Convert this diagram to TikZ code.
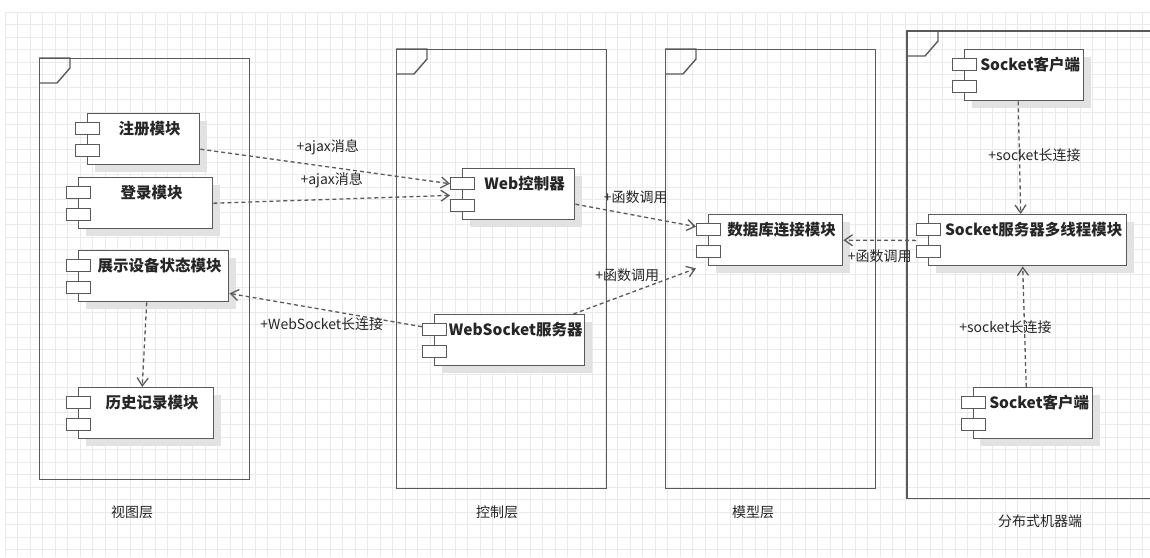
\documentclass[tikz,border=0pt]{standalone}
\usepackage{fontspec}
\setmainfont{Noto Sans CJK SC}
\usetikzlibrary{arrows.meta,shadows}

\definecolor{umlline}{HTML}{5A5A5A}
\definecolor{gridc}{HTML}{EAEAEA}
\definecolor{shade}{HTML}{E2E2E2}
\definecolor{ink}{HTML}{262626}

\begin{document}
\begin{tikzpicture}[
  x=1pt, y=-1pt,
  text=ink,
  layer/.style={draw=umlline, line width=1.4pt, anchor=north west, inner sep=0pt},
  comp/.style={draw=umlline, line width=1.4pt, fill=white, anchor=north west,
    minimum height=51pt, inner sep=0pt, text height=12pt, text depth=22pt,
    font=\fontsize{15.5}{18}\selectfont\bfseries,
    execute at begin node=\hspace*{12pt},
    drop shadow={shadow xshift=7pt, shadow yshift=-7pt, fill=shade, opacity=1}},
  port/.style={draw=umlline, line width=1.4pt, fill=white, anchor=north west,
    minimum width=24pt, minimum height=12pt, inner sep=0pt},
  lbl/.style={font=\fontsize{14}{16}\selectfont, inner sep=1pt},
  dep/.style={draw=umlline, line width=1.3pt, dash pattern=on 4pt off 3pt,
    -{Straight Barb[length=8pt, width=11pt]}}
]
\useasboundingbox (0,0) rectangle (1150,557);
\clip (0,0) rectangle (1150,557);

% background grid
\draw[gridc, line width=0.8pt, shift={(5,12)}] (0,0) grid[step=12.5pt] (1145,545);

% layers
\node[layer, minimum width=210pt, minimum height=421pt] (view)  at (39,58)  {};
\node[layer, minimum width=210pt, minimum height=439pt] (ctrl)  at (396,49) {};
\node[layer, minimum width=210pt, minimum height=439pt] (model) at (665,49) {};
\node[layer, draw=none, minimum width=320pt, minimum height=466pt] (dist) at (907,31) {};
% the last layer runs past the right border
\draw[umlline, line width=1.4pt] (dist.north east) -- (dist.north west) -- (dist.south west) -- (dist.south east);
\foreach \f in {view,ctrl,model,dist}
  \draw[umlline, line width=1.4pt] (\f.north west) -- ++(31,0) -- ++(0,10) -- ++(-13,15) -- ++(-18,0);

\node[lbl] (viewname)  at (132,512)  {视图层};
\node[lbl] (ctrlname)  at (497,512)  {控制层};
\node[lbl] (modelname) at (753,512)  {模型层};
\node[lbl] (distname)  at (1040,521) {分布式机器端};

% view layer
\node[comp, minimum width=112pt] (reg)   at (87,113) {注册模块};
\node[comp, minimum width=134pt] (login) at (78,177) {登录模块};
\node[comp, minimum width=150pt] (show)  at (78,250) {展示设备状态模块};
\node[comp, minimum width=135pt] (hist)  at (78,387) {历史记录模块};

% control layer
\node[comp, minimum width=112pt] (web) at (462,168) {Web控制器};
\node[comp, minimum width=150pt] (ws)  at (434,314) {WebSocket服务器};

% model layer
\node[comp, minimum width=134pt] (db) at (708,214) {数据库连接模块};

% distributed machines
\node[comp, minimum width=119pt] (cli1) at (964,49)  {Socket客户端};
\node[comp, minimum width=198pt] (srv)  at (928,214) {Socket服务器多线程模块};
\node[comp, minimum width=119pt] (cli2) at (973,387) {Socket客户端};

% component ports
\foreach \c in {reg,login,show,hist,web,ws,db,cli1,srv,cli2} {
  \node[port] (\c-a) at ([xshift=-12pt,yshift=-9pt]\c.north west) {};
  \node[port] (\c-b) at ([xshift=-12pt,yshift=-31pt]\c.north west) {};
}

% dependencies
\draw[dep] ([yshift=-10pt]reg.east) -- node[lbl, pos=0.51, above=10pt] {+ajax消息} (web-a.west);
\draw[dep] (login.east) -- node[lbl, pos=0.5, above=10pt] {+ajax消息} ([yshift=-5pt]web-a.south west);
\draw[dep] ([yshift=-10pt]web.east) -- node[lbl, pos=0.5, above=10pt] {+函数调用} ([yshift=3pt]db-a.west);
\draw[dep] ([xshift=-12pt]ws.north east) -- node[lbl, pos=0.44, above=11pt] {+函数调用} ([yshift=-10pt]db-b.south west);
\draw[dep] ([yshift=3pt]ws-a.west) -- node[lbl, pos=0.52, below=7pt] {+WebSocket长连接} ([yshift=9pt]show.south east);
\draw[dep] ([xshift=-7pt]show.south) -- ([xshift=-4pt]hist.north);
\draw[dep] ([xshift=-6pt]cli1.south) -- node[lbl, pos=0.48, xshift=15pt] {+socket长连接} ([xshift=-7pt]srv.north);
\draw[dep] ([yshift=-4pt]srv-a.south west) -- node[lbl, pos=0.5, below=8pt] {+函数调用} (db.east);
\draw[dep] ([xshift=-7pt]cli2.north) -- node[lbl, pos=0.5, xshift=-19pt] {+socket长连接} ([xshift=-5pt]srv.south);

\end{tikzpicture}
\end{document}
